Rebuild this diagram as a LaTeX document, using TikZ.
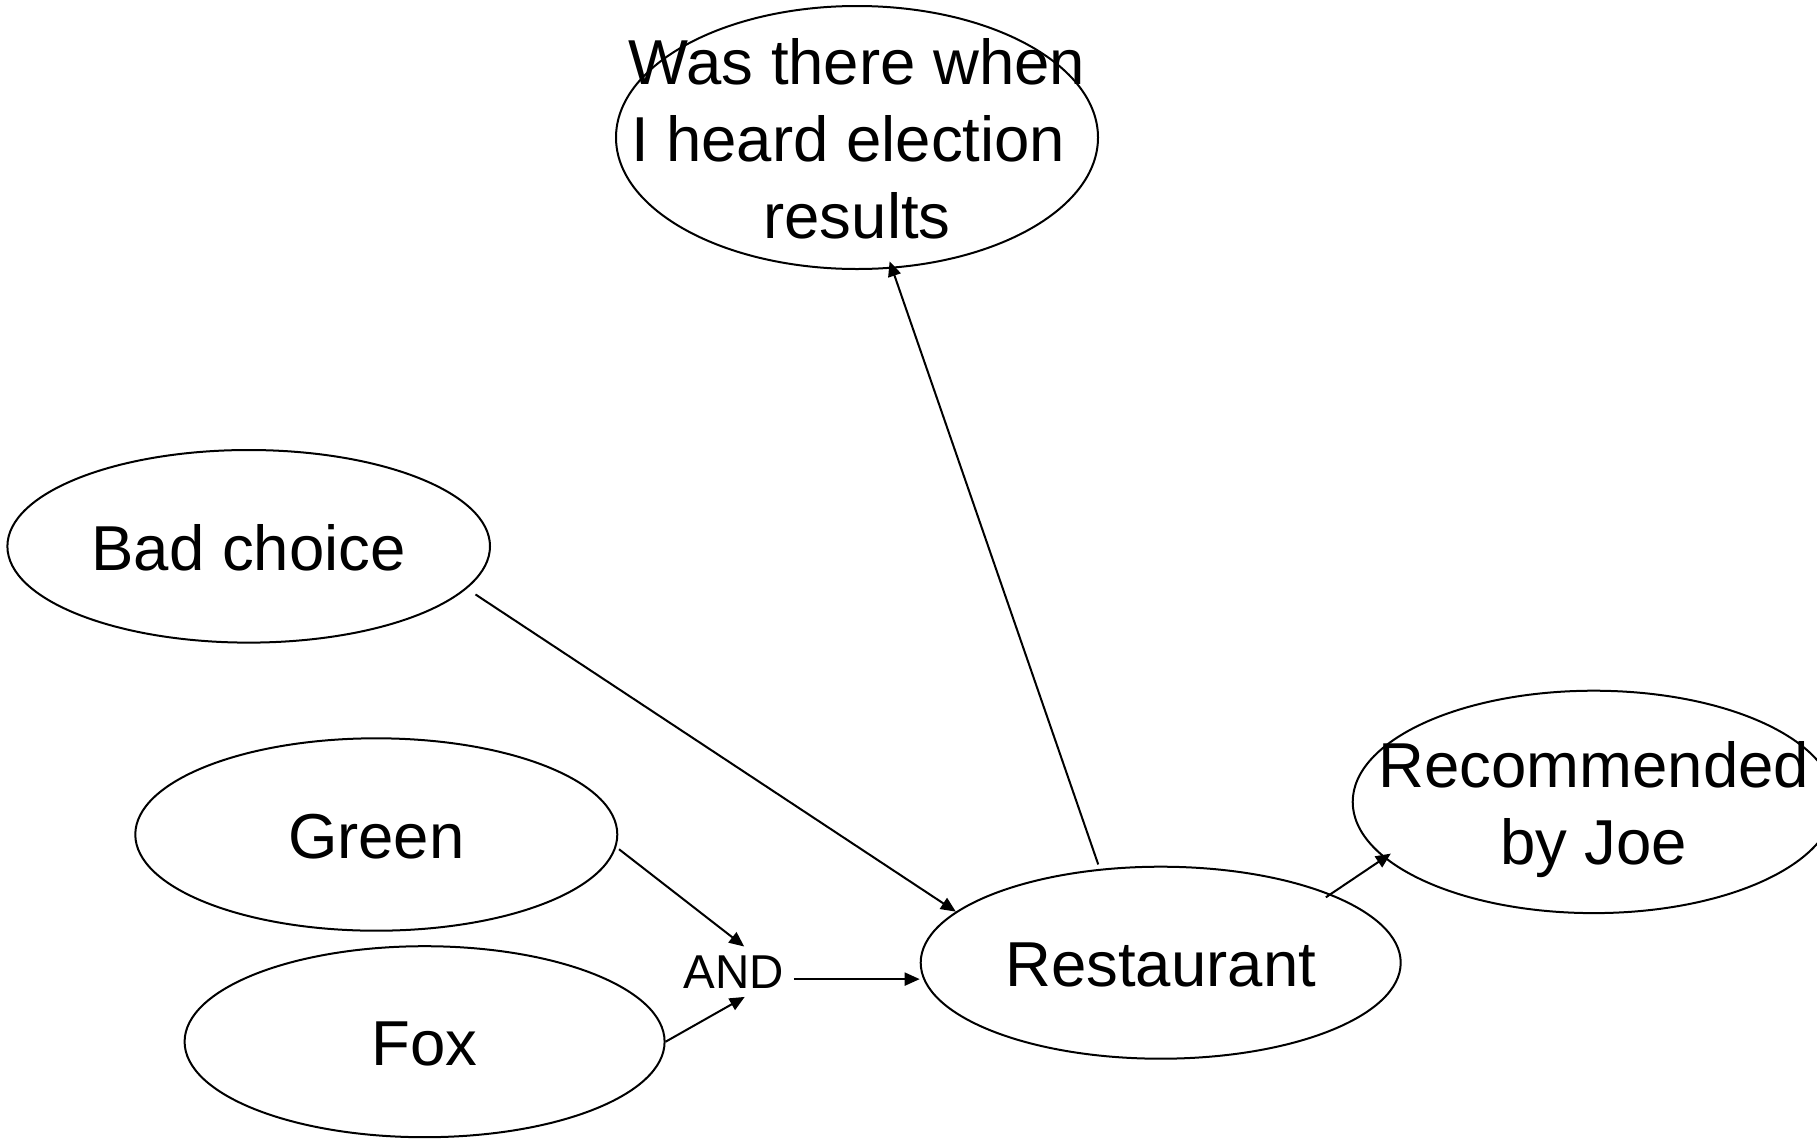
\documentclass[tikz,border=0pt]{standalone}
\usepackage{fontspec}
\setmainfont{Liberation Sans}
\usetikzlibrary{shapes.geometric,arrows.meta}
\begin{document}
\begin{tikzpicture}[x=1pt,y=-1pt,
  bubble/.style={ellipse, draw=black, line width=2pt, inner sep=0pt},
  lbl/.style={inner sep=0pt, align=center, text=black,
    font=\fontsize{63.5}{77}\selectfont, text height=48pt, text depth=0pt},
  gate/.style={inner xsep=10pt, inner ysep=8pt, text=black,
    font=\fontsize{47.5}{57}\selectfont, text height=34pt, text depth=0pt},
  link/.style={draw=black, line width=2pt, -{Triangle[length=15pt,width=13pt]}}
]
\useasboundingbox (0,0) rectangle (1817,1138);

% ellipses
\node[bubble, minimum width=482pt, minimum height=263pt] (heard) at (857,137.5) {};
\node[bubble, minimum width=482.6pt, minimum height=192.6pt] (bad) at (248.7,546.3) {};
\node[bubble, minimum width=482pt, minimum height=192.4pt] (green) at (376.3,834.5) {};
\node[bubble, minimum width=480pt, minimum height=191pt] (fox) at (424.6,1041.7) {};
\node[bubble, minimum width=480pt, minimum height=192pt] (rest) at (1160.7,962.7) {};
\node[bubble, minimum width=482pt, minimum height=222.4pt] (rec) at (1593.7,801.9) {};

% texts (multi-line boxes sit on their last baseline)
\node[lbl, text height=202pt] (heardtxt) at (heard.center) {Was there when\\I heard election\rule{17.6pt}{0pt}\\results};
\node[lbl] (badtxt) at (bad.center) {Bad choice};
\node[lbl] (greentxt) at (green.center) {Green};
\node[lbl] (foxtxt) at (fox.center) {Fox};
\node[lbl] (resttxt) at (rest.center) {Restaurant};
\node[lbl, text height=125pt] (rectxt) at (rec.center) {Recommended\\by Joe};
\node[gate] (and) at (733.5,971.7) {AND};

% connectors
\draw[link, shorten <=3.5pt] (green.-3.9) -- (and.67.8);
\draw[link] (fox.east) -- (and.-66.4);
\draw[link] (and.-7.7) -- (and.-7.7 -| rest.west);
\draw[link, shorten <=10.4pt] (bad.-11.24) -- (rest.166.9);
\draw[link, shorten <=4.7pt, shorten >=-7.7pt] (rest.123.5) -- (heard.-75.1);
\draw[link, shorten <=-6pt, shorten >=-8pt] (rest.22) -- (rec.195);
\end{tikzpicture}
\end{document}
